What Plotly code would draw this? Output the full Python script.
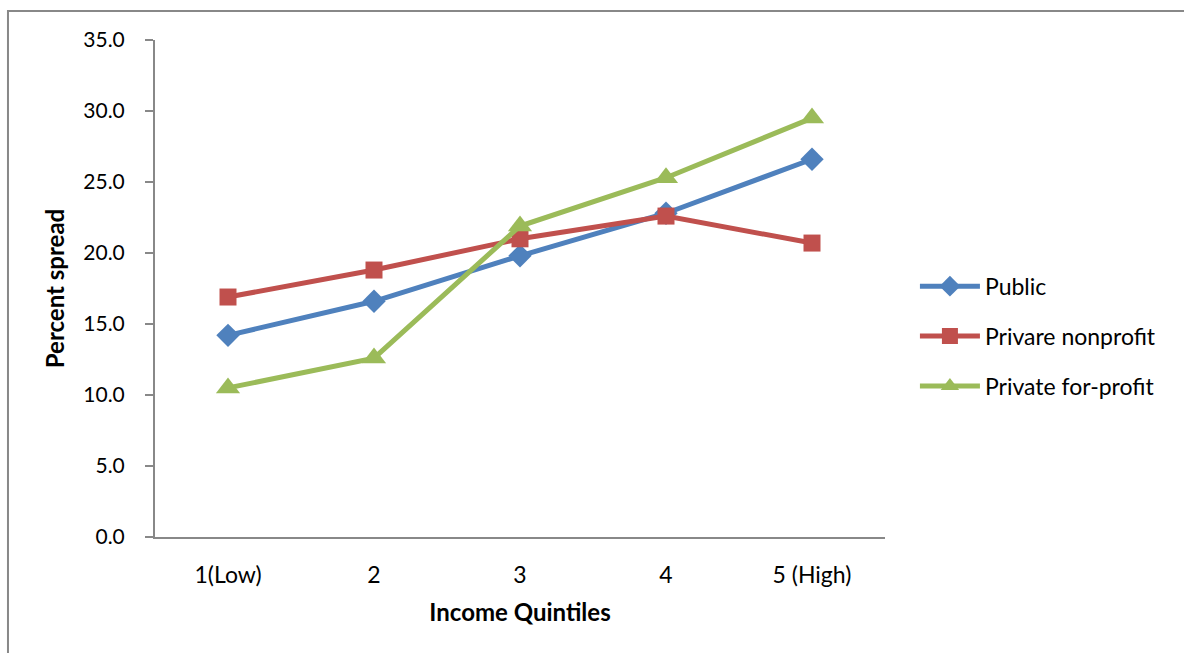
import plotly.graph_objects as go

quintiles = ["1(Low)", "2", "3", "4", "5 (High)"]
public = [14.2, 16.6, 19.8, 22.8, 26.6]
private_nonprofit = [16.9, 18.8, 21.0, 22.6, 20.7]
private_forprofit = [10.5, 12.6, 21.9, 25.3, 29.5]

series = [
    ("Public", public, "#4F81BD", "diamond", 18),
    ("Privare nonprofit", private_nonprofit, "#C0504D", "square", 17),
    ("Private for-profit", private_forprofit, "#9BBB59", "triangle-up", 21),
]

font_family = "Lato, 'Open Sans', sans-serif"

fig = go.Figure()
for name, vals, color, symbol, size in series:
    fig.add_trace(go.Scatter(
        x=quintiles, y=vals, name=name, mode="lines+markers",
        legendgroup=name,
        line=dict(color=color, width=5),
        marker=dict(symbol=symbol, size=size, color=color),
    ))

# chart frame around the whole drawing area
fig.add_shape(type="rect", xref="paper", yref="paper",
              x0=-0.2014, x1=1.45, y0=-0.25, y1=1.0584,
              line=dict(color="#888888", width=2), layer="below")

fig.update_layout(
    width=1184, height=653,
    margin=dict(l=155, r=299, t=40, b=116),
    paper_bgcolor="white", plot_bgcolor="white",
    font=dict(family=font_family, size=21, color="black"),
    showlegend=True,
    legend=dict(x=1.041, y=0.404, xanchor="left", yanchor="middle",
                font=dict(size=23), tracegroupgap=17, itemwidth=60,
                bgcolor="rgba(0,0,0,0)"),
    xaxis=dict(
        title=dict(text="<b>Income Quintiles</b>", font=dict(size=24), standoff=18),
        showline=True, linecolor="#888888", linewidth=2,
        showgrid=False, ticks="", zeroline=False,
        tickfont=dict(size=23),
        ticklabelstandoff=16,
        range=[-0.5, 4.5],
    ),
    yaxis=dict(
        title=dict(text="<b>Percent spread</b>", font=dict(size=24), standoff=12),
        range=[0, 35], tickvals=[0, 5, 10, 15, 20, 25, 30, 35],
        tickformat=".1f",
        showline=True, linecolor="#888888", linewidth=2,
        ticks="outside", ticklen=8, tickcolor="#888888", tickwidth=2,
        ticklabelstandoff=16,
        showgrid=False, zeroline=False,
    ),
)

fig.write_html("out.html")
